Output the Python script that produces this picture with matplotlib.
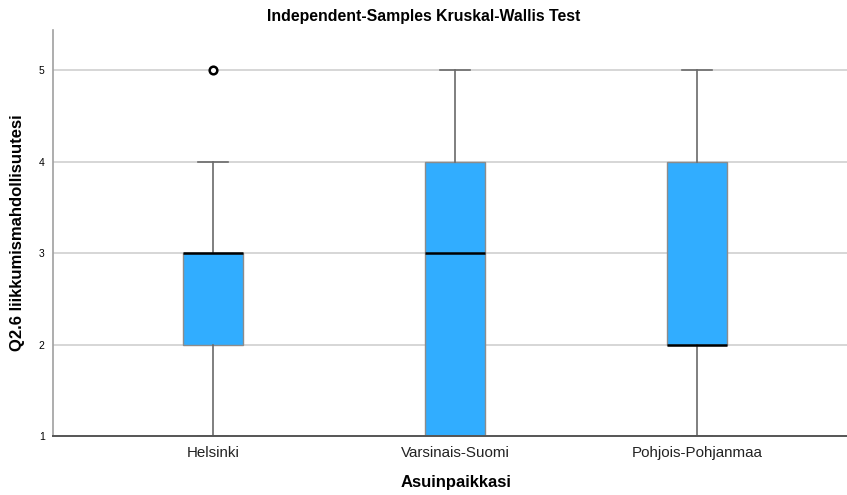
import matplotlib
matplotlib.use('Agg')
import matplotlib.pyplot as plt

plt.rcParams['font.family'] = ['Liberation Sans', 'DejaVu Sans']

# five-number summaries per region (Likert 1-5)
regions = ['Helsinki', 'Varsinais-Suomi', 'Pohjois-Pohjanmaa']
whisker_low = [1, 1, 1]
q1 = [2, 1, 2]
median = [3, 3, 2]
q3 = [3, 4, 4]
whisker_high = [4, 5, 5]
outliers = [[5], [], []]
yticks = [1, 2, 3, 4, 5]

stats = []
for i, name in enumerate(regions):
    stats.append({'label': name, 'whislo': whisker_low[i], 'q1': q1[i],
                  'med': median[i], 'q3': q3[i], 'whishi': whisker_high[i],
                  'fliers': outliers[i]})

fig = plt.figure(figsize=(8.47, 4.95), dpi=100)
ax = fig.add_axes([0.0626, 0.119, 0.9374, 0.820])

for y in yticks[1:]:
    ax.axhline(y, color='#d0d0d0', lw=1.2, zorder=0)

ax.bxp(stats, positions=range(len(regions)), widths=0.25, patch_artist=True,
       boxprops=dict(facecolor='#31adff', edgecolor='#8c8c8c', lw=1.0),
       medianprops=dict(color='black', lw=1.8),
       whiskerprops=dict(color='#6a6a6a', lw=1.2),
       capprops=dict(color='#6a6a6a', lw=1.2),
       capwidths=0.125,
       flierprops=dict(marker='o', markersize=5.5, markerfacecolor='white',
                       markeredgecolor='black', markeredgewidth=1.8),
       zorder=2)

ax.set_xlim(-0.661, 2.62)
ax.set_ylim(1, 5.44)
ax.set_yticks(yticks)
ax.tick_params(axis='y', length=0, labelsize=7.5, pad=6)
ax.tick_params(axis='x', length=0, labelsize=10.9, pad=7, colors='#222222')

for s in ['top', 'right']:
    ax.spines[s].set_visible(False)
ax.spines['left'].set_color('#a0a0a0')
ax.spines['left'].set_linewidth(1.2)
ax.spines['bottom'].set_color('#555555')
ax.spines['bottom'].set_linewidth(1.4)

ax.set_ylabel('Q2.6 liikkumismahdollisuutesi', fontsize=12, fontweight='bold', labelpad=10)
ax.set_xlabel('Asuinpaikkasi', fontsize=12, fontweight='bold')
ax.xaxis.set_label_coords(0.507, -0.096)
fig.suptitle('Independent-Samples Kruskal-Wallis Test', fontsize=11.4,
             fontweight='bold', y=0.982)

fig.savefig('out.png', dpi=100)
